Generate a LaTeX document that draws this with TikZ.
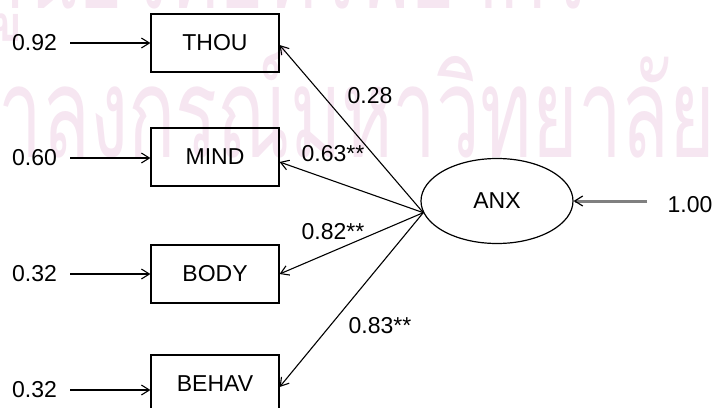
\documentclass[tikz,border=0pt]{standalone}
\usepackage{fontspec}
\setmainfont{Liberation Sans}
\newfontfamily\thaifont[Script=Thai]{Loma}
\usetikzlibrary{shapes,positioning,arrows.meta}
\definecolor{wmark}{RGB}{246,230,241}
\definecolor{distline}{RGB}{128,128,128}

\begin{document}
\begin{tikzpicture}[x=1pt, y=-1pt, font=\fontsize{23}{23}\selectfont,
  >={Straight Barb[length=8pt,width=10pt]},
  obs/.style={draw, line width=1.2pt, minimum width=128pt, minimum height=58pt, inner sep=0pt},
  lat/.style={draw, ellipse, line width=1.2pt, minimum width=152pt, minimum height=85pt, inner sep=0pt},
  lab/.style={inner sep=0pt},
  wm/.style={text=wmark, inner sep=0pt, font=\thaifont\fontsize{126}{126}\selectfont},
  load/.style={->, line width=1.1pt},
  err/.style={->, line width=1.1pt, shorten <=13pt}]
  \useasboundingbox (0,0) rectangle (717,407);
  \node[wm, anchor=base west] (wmtop) at (-25,8) {\scalebox{0.62}[1]{ศูนย์วิทยทรัพยากร}};
  \node[wm, anchor=base west] (wmbot) at (-101,157) {\scalebox{0.62}[1]{จุฬาลงกรณ์มหาวิทยาลัย}};

  \node[obs] (thou) at (215,43) {THOU};
  \node[obs] (mind) at (215,157) {MIND};
  \node[obs] (body) at (215,274) {BODY};
  \node[obs] (behav) at (215,384) {BEHAV};
  \node[lat] (anx) at (497,201) {ANX};

  \node[lab] (e1) at (34.5,43) {0.92};
  \node[lab] (e2) at (34.5,158) {0.60};
  \node[lab] (e3) at (34.5,274) {0.32};
  \node[lab] (e4) at (34.5,390) {0.32};
  \draw[err] (e1) -- (e1 -| thou.west);
  \draw[err] (e2) -- (e2 -| mind.west);
  \draw[err] (e3) -- (e3 -| body.west);
  \draw[err] (e4) -- (e4 -| behav.west);

  \draw[load] (anx.189) -- ([yshift=-2pt]thou.east);
  \draw[load] (anx.189) -- ([yshift=-5pt]mind.east);
  \draw[load] (anx.189) -- (body.east);
  \draw[load] (anx.189) -- ([yshift=-3pt]behav.east);
  \node[lab] (l1) at (370,96) {0.28};
  \node[lab] (l2) at (333,154) {0.63**};
  \node[lab] (l3) at (333,232) {0.82**};
  \node[lab] (l4) at (380,326) {0.83**};

  \node[lab] (d) at (690,205) {1.00};
  \draw[distline, line width=3pt, shorten <=20pt,
    -{Straight Barb[length=8pt,width=10pt,line width=1.2pt,color=black]}]
    (d.west |- anx.east) -- (anx.east);
\end{tikzpicture}
\end{document}
